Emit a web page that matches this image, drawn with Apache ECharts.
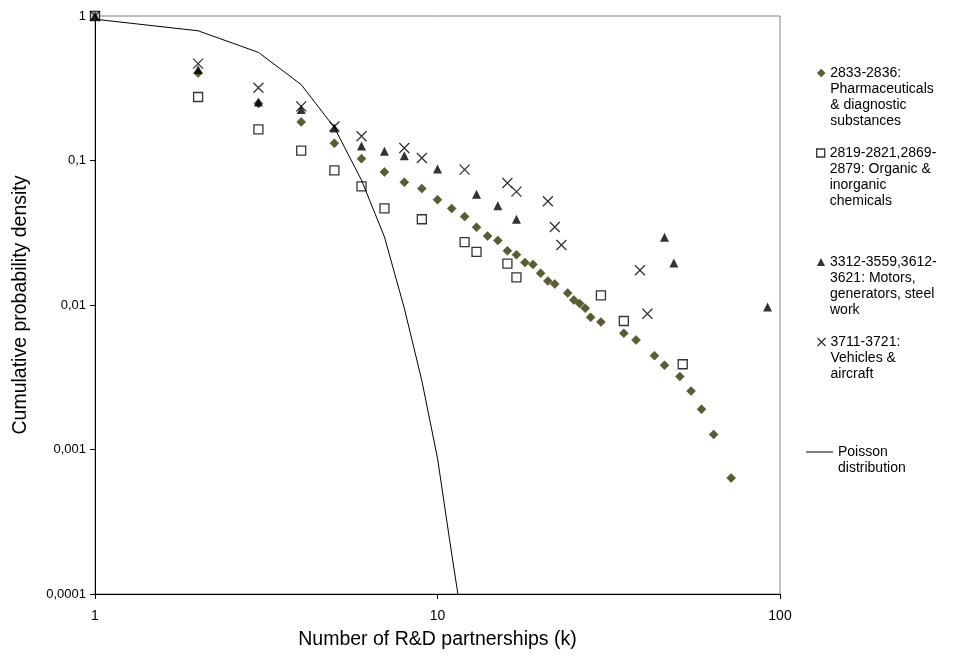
<!DOCTYPE html>
<html>
<head>
<meta charset="utf-8">
<title>R&D partnerships</title>
<script src="https://cdn.jsdelivr.net/npm/echarts@6/dist/echarts.min.js"></script>
<style>
  html,body{margin:0;padding:0;background:#fff;}
  #main{width:953px;height:657px;}
</style>
</head>
<body>
<div id="main"></div>
<script>
// data (k = number of partnerships, y = cumulative density)
var kPharma = [1,2,3,4,5,6,7,8,9,10,11,12,13,14,15,16,17,18,19,20,21,22,24,25,26,27,28,30,35,38,43,46,51,55,59,64,72];
var yPharma = [1,0.403,0.248,0.185,0.1315,0.103,0.0832,0.0707,0.0639,0.0536,0.0465,0.0409,0.0345,0.030,0.028,0.0237,0.0223,0.0197,0.0191,0.0166,0.01466,0.01397,0.0121,0.01083,0.01023,0.00949,0.00822,0.00763,0.00637,0.00573,0.00446,0.00383,0.0032,0.00254,0.0019,0.00127,0.000635];

var kChem = [1,2,3,4,5,6,7,9,12,13,16,17,30,35,52];
var yChem = [1,0.275,0.164,0.117,0.0855,0.0663,0.0467,0.0392,0.0272,0.0233,0.01934,0.01555,0.01167,0.00775,0.00389];

var kMotors = [1,2,3,4,5,6,7,8,10,13,15,17,46,49,92];
var yMotors = [1,0.426,0.254,0.225,0.168,0.126,0.116,0.108,0.0873,0.0584,0.0487,0.0392,0.0294,0.0195,0.00969];

var kVehicles = [1,2,3,4,5,6,8,9,12,16,17,21,22,23,39,41];
var yVehicles = [1,0.468,0.319,0.237,0.172,0.147,0.122,0.104,0.0865,0.0699,0.0609,0.0522,0.0347,0.026,0.0174,0.0087];

var kPoisson = [1,2,3,4,5,6,7,8,9,10,11,12];
var yPoisson = [0.95,0.79,0.56,0.335,0.169,0.073,0.0296,0.0095,0.003,0.00087,0.00019,0.00005];

var xTickLabels = ['1','10','100'];
var yTickLabels = ['0,0001','0,001','0,01','0,1','1'];

var seriesNames = [
  '2833-2836: Pharmaceuticals & diagnostic substances',
  '2819-2821,2869-2879: Organic & inorganic chemicals',
  '3312-3559,3612-3621: Motors, generators, steel work',
  '3711-3721: Vehicles & aircraft',
  'Poisson distribution'
];
var legendLines = [
  ['2833-2836:','Pharmaceuticals','& diagnostic','substances'],
  ['2819-2821,2869-','2879: Organic &','inorganic','chemicals'],
  ['3312-3559,3612-','3621: Motors,','generators, steel','work'],
  ['3711-3721:','Vehicles &','aircraft'],
  ['Poisson','distribution']
];

var font = '"Liberation Sans", Arial, sans-serif';
var crossPath = 'path://M0,0L10,10M10,0L0,10';

function pairs(xs, ys){
  var out = [];
  for (var i = 0; i < xs.length; i++) out.push([xs[i], ys[i]]);
  return out;
}
function log10(v){ return Math.round(Math.log(v) / Math.LN10); }

// legend: one block per entry, marker lined up with the first text line
var lh = 16;
var legendIconY = [73, 153, 262, 342, 452];
var legendIcons = [
  {icon:'diamond', w:8, h:8, left:817, style:{color:'#333300', borderColor:'#333300', borderWidth:0.5}},
  {icon:'rect', w:8, h:8, left:816, style:{color:'#fff', borderColor:'#000', borderWidth:1.3}},
  {icon:'triangle', w:8, h:8, left:817, style:{color:'#000'}},
  {icon:crossPath, w:8, h:8, left:815, style:{color:'none', borderColor:'#000', borderWidth:1.3}},
  {icon:'rect', w:27, h:1, left:806, style:{color:'#000'}}
];
var legends = [];
for (var i = 0; i < seriesNames.length; i++) {
  (function(i){
    var n = legendLines[i].length;
    var ic = legendIcons[i];
    legends.push({
      orient: 'vertical',
      left: ic.left,
      top: legendIconY[i] - (2 * n - 1) * lh / 2,
      padding: 0,
      selectedMode: false,
      itemWidth: ic.w,
      itemHeight: ic.h,
      data: [{name: seriesNames[i], icon: ic.icon, itemStyle: ic.style}],
      textStyle: {fontFamily: font, fontSize: 14, lineHeight: lh, color: '#000'},
      formatter: function(){
        return new Array(n).join('\n') + legendLines[i].join('\n');
      }
    });
  })(i);
}

var myChart = echarts.init(document.getElementById('main'));

var option = {
  animation: false,
  backgroundColor: '#fff',
  grid: {
    left: 95, top: 16, right: 173, bottom: 63,
    show: true, borderColor: '#808080', borderWidth: 1, backgroundColor: 'transparent'
  },
  legend: legends,
  xAxis: {
    type: 'log', logBase: 10, min: 1, max: 100,
    name: 'Number of R&D partnerships (k)',
    nameLocation: 'middle', nameGap: 36,
    nameTextStyle: {fontFamily: font, fontSize: 19.5, color: '#000'},
    axisLine: {onZero: false, lineStyle: {color: '#000', width: 1}},
    axisTick: {show: true, length: 5, lineStyle: {color: '#000'}},
    minorTick: {show: false},
    splitLine: {show: false},
    axisLabel: {
      margin: 15, fontFamily: font, fontSize: 14, color: '#000',
      formatter: function(v){ return xTickLabels[log10(v)]; }
    }
  },
  yAxis: {
    type: 'log', logBase: 10, min: 0.0001, max: 1,
    name: 'Cumulative probability density',
    nameLocation: 'middle', nameGap: 64,
    nameTextStyle: {fontFamily: font, fontSize: 19.5, color: '#000'},
    axisLine: {onZero: false, lineStyle: {color: '#000', width: 1}},
    axisTick: {show: true, length: 5, lineStyle: {color: '#000'}},
    splitLine: {show: false},
    axisLabel: {
      margin: 9, fontFamily: font, fontSize: 13, color: '#000',
      formatter: function(v){ return yTickLabels[log10(v) + 4]; }
    }
  },
  series: [
    {
      name: seriesNames[0], type: 'scatter', symbol: 'diamond', symbolSize: 9,
      itemStyle: {color: '#333300', borderColor: '#333300', borderWidth: 0.5},
      data: pairs(kPharma, yPharma)
    },
    {
      name: seriesNames[1], type: 'scatter', symbol: 'rect', symbolSize: 9,
      itemStyle: {color: '#fff', borderColor: '#000', borderWidth: 1.3},
      data: pairs(kChem, yChem)
    },
    {
      name: seriesNames[2], type: 'scatter', symbol: 'triangle', symbolSize: 9,
      itemStyle: {color: '#000'},
      data: pairs(kMotors, yMotors)
    },
    {
      name: seriesNames[3], type: 'scatter', symbol: crossPath, symbolSize: 10,
      itemStyle: {color: 'none', borderColor: '#000', borderWidth: 1.3},
      data: pairs(kVehicles, yVehicles)
    },
    {
      name: seriesNames[4], type: 'line', symbol: 'none', clip: true,
      lineStyle: {color: '#000', width: 1},
      itemStyle: {color: '#000'},
      data: pairs(kPoisson, yPoisson)
    }
  ]
};

myChart.setOption(option);
</script>
</body>
</html>
